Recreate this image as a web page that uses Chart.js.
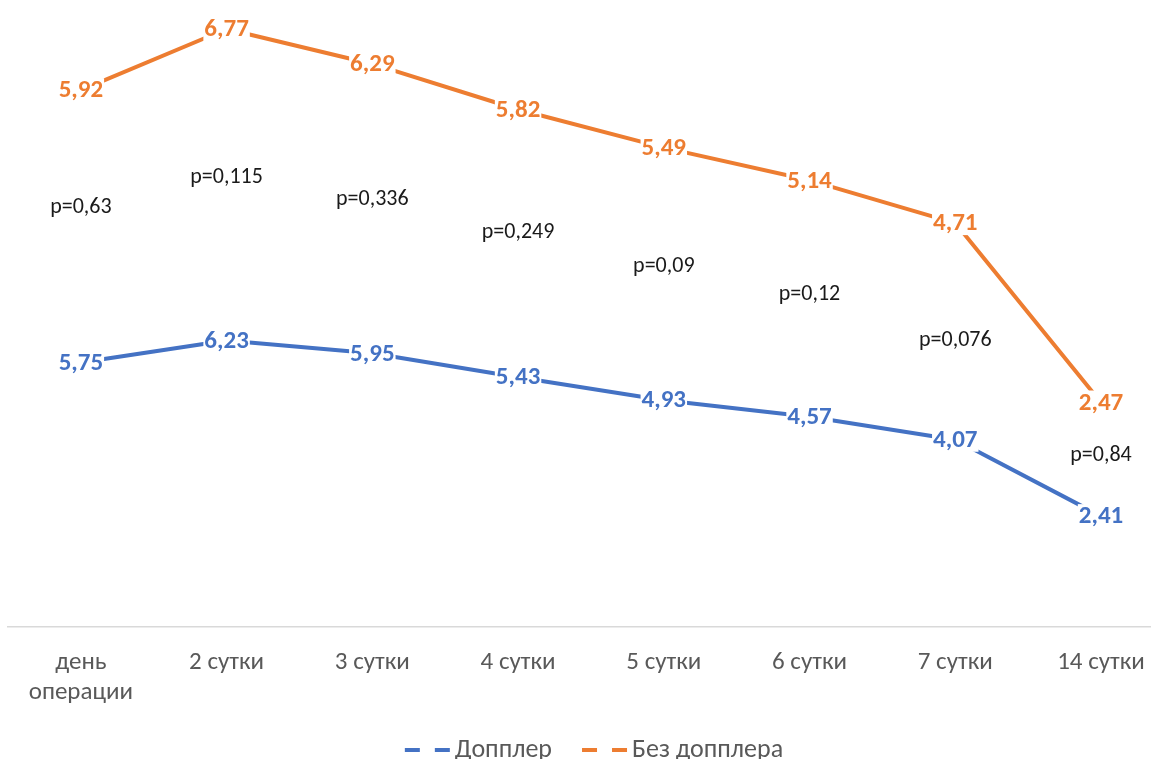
<!DOCTYPE html>
<html>
<head>
<meta charset="utf-8">
<script src="https://cdn.jsdelivr.net/npm/chart.js@4.4.1/dist/chart.umd.min.js"></script>
<style>
  html, body { margin: 0; padding: 0; background: #ffffff; overflow: hidden; }
  #wrap { position: relative; width: 1151px; height: 759px; }
</style>
</head>
<body>
<div id="wrap"><canvas id="chart"></canvas></div>
<script>
// Days after surgery
const categories = [['день', 'операции'], '2 сутки', '3 сутки', '4 сутки', '5 сутки', '6 сутки', '7 сутки', '14 сутки'];

// Mean scores per group
const doppler   = [5.75, 6.23, 5.95, 5.43, 4.93, 4.57, 4.07, 2.41];
const noDoppler = [5.92, 6.77, 6.29, 5.82, 5.49, 5.14, 4.71, 2.47];

// Between-group p values for each day
const pValues = ['p=0,63', 'p=0,115', 'p=0,336', 'p=0,249', 'p=0,09', 'p=0,12', 'p=0,076', 'p=0,84'];
// Height of each p label, in value-axis units
const pLevels = [9.13, 9.78, 9.30, 8.57, 7.83, 7.22, 6.22, 3.72];

const seriesNames = ['Допплер', 'Без допплера'];
const BLUE = '#4472C4';
const ORANGE = '#ED7D31';
const FONT = 'Carlito, Lato, "Liberation Sans", sans-serif';

const fmt = v => v.toFixed(2).replace('.', ',');

// Value labels centred on each point, on a white box hiding the line
const valueLabels = {
  id: 'valueLabels',
  afterDatasetsDraw(chart) {
    const ctx = chart.ctx;
    ctx.save();
    ctx.font = 'bold 25px ' + FONT;
    ctx.textAlign = 'center';
    ctx.textBaseline = 'middle';
    chart.data.datasets.forEach((ds, di) => {
      const meta = chart.getDatasetMeta(di);
      meta.data.forEach((pt, i) => {
        const txt = fmt(ds.raw[i]);
        const w = ctx.measureText(txt).width;
        ctx.fillStyle = '#ffffff';
        ctx.fillRect(pt.x - w / 2 - 1, pt.y - 12, w + 2, 24);
        ctx.fillStyle = ds.borderColor;
        ctx.fillText(txt, pt.x, pt.y + 1);
      });
    });
    ctx.restore();
  }
};

// p value annotations between the two lines
const pLabels = {
  id: 'pLabels',
  afterDatasetsDraw(chart) {
    const ctx = chart.ctx;
    const xs = chart.scales.x, ys = chart.scales.y;
    ctx.save();
    ctx.font = '22px ' + FONT;
    ctx.fillStyle = '#1a1a1a';
    ctx.textAlign = 'center';
    ctx.textBaseline = 'middle';
    pValues.forEach((t, i) => {
      ctx.fillText(t, xs.getPixelForValue(i), ys.getPixelForValue(pLevels[i]));
    });
    ctx.restore();
  }
};

// Bottom legend with dashed line keys
const dashLegend = {
  id: 'dashLegend',
  afterDraw(chart) {
    const ctx = chart.ctx;
    ctx.save();
    ctx.font = '26px ' + FONT;
    ctx.textBaseline = 'middle';
    ctx.textAlign = 'left';
    const keyW = 45, keyGap = 5, itemGap = 30, cy = 750;
    const items = chart.data.datasets.map(ds => ({ label: ds.label, color: ds.borderColor, w: ctx.measureText(ds.label).width }));
    const total = items.reduce((s, it) => s + keyW + keyGap + it.w, 0) + itemGap * (items.length - 1);
    let x = 594 - total / 2;
    items.forEach(it => {
      ctx.strokeStyle = it.color;
      ctx.lineWidth = 4;
      ctx.setLineDash([15, 15]);
      ctx.beginPath();
      ctx.moveTo(x, cy);
      ctx.lineTo(x + keyW, cy);
      ctx.stroke();
      ctx.setLineDash([]);
      ctx.fillStyle = '#595959';
      ctx.fillText(it.label, x + keyW + keyGap, cy);
      x += keyW + keyGap + it.w + itemGap;
    });
    ctx.restore();
  }
};

const toPoints = arr => arr.map((v, i) => ({ x: i, y: v }));

new Chart(document.getElementById('chart'), {
  type: 'line',
  data: {
    datasets: [
      { label: seriesNames[0], raw: doppler, data: toPoints(doppler), borderColor: BLUE, backgroundColor: BLUE },
      { label: seriesNames[1], raw: noDoppler, data: toPoints(noDoppler), borderColor: ORANGE, backgroundColor: ORANGE }
    ]
  },
  options: {
    responsive: true,
    maintainAspectRatio: false,
    animation: false,
    layout: { padding: { left: 8, right: 0, top: 0, bottom: 0 } },
    elements: {
      line: { borderWidth: 4, tension: 0, fill: false, borderCapStyle: 'round', borderJoinStyle: 'round' },
      point: { radius: 0, hoverRadius: 0 }
    },
    plugins: {
      legend: { display: false },
      tooltip: { enabled: false }
    },
    scales: {
      x: {
        type: 'linear',
        min: -0.5,
        max: 7.343,
        afterBuildTicks: scale => { scale.ticks = categories.map((_, i) => ({ value: i })); },
        afterFit: scale => { scale.height = 132; scale.paddingLeft = 0; scale.paddingRight = 0; },
        grid: { display: true, drawOnChartArea: false, drawTicks: false, color: 'rgba(0,0,0,0)' },
        border: { display: true, color: '#d9d9d9', width: 1.5 },
        ticks: {
          autoSkip: false,
          maxRotation: 0,
          padding: 21,
          color: '#595959',
          font: { family: FONT, size: 25, lineHeight: 1.2 },
          callback: v => categories[v]
        }
      },
      y: {
        display: false,
        stacked: true,
        min: 0,
        max: 13.63
      }
    }
  },
  plugins: [valueLabels, pLabels, dashLegend]
});
</script>
</body>
</html>
